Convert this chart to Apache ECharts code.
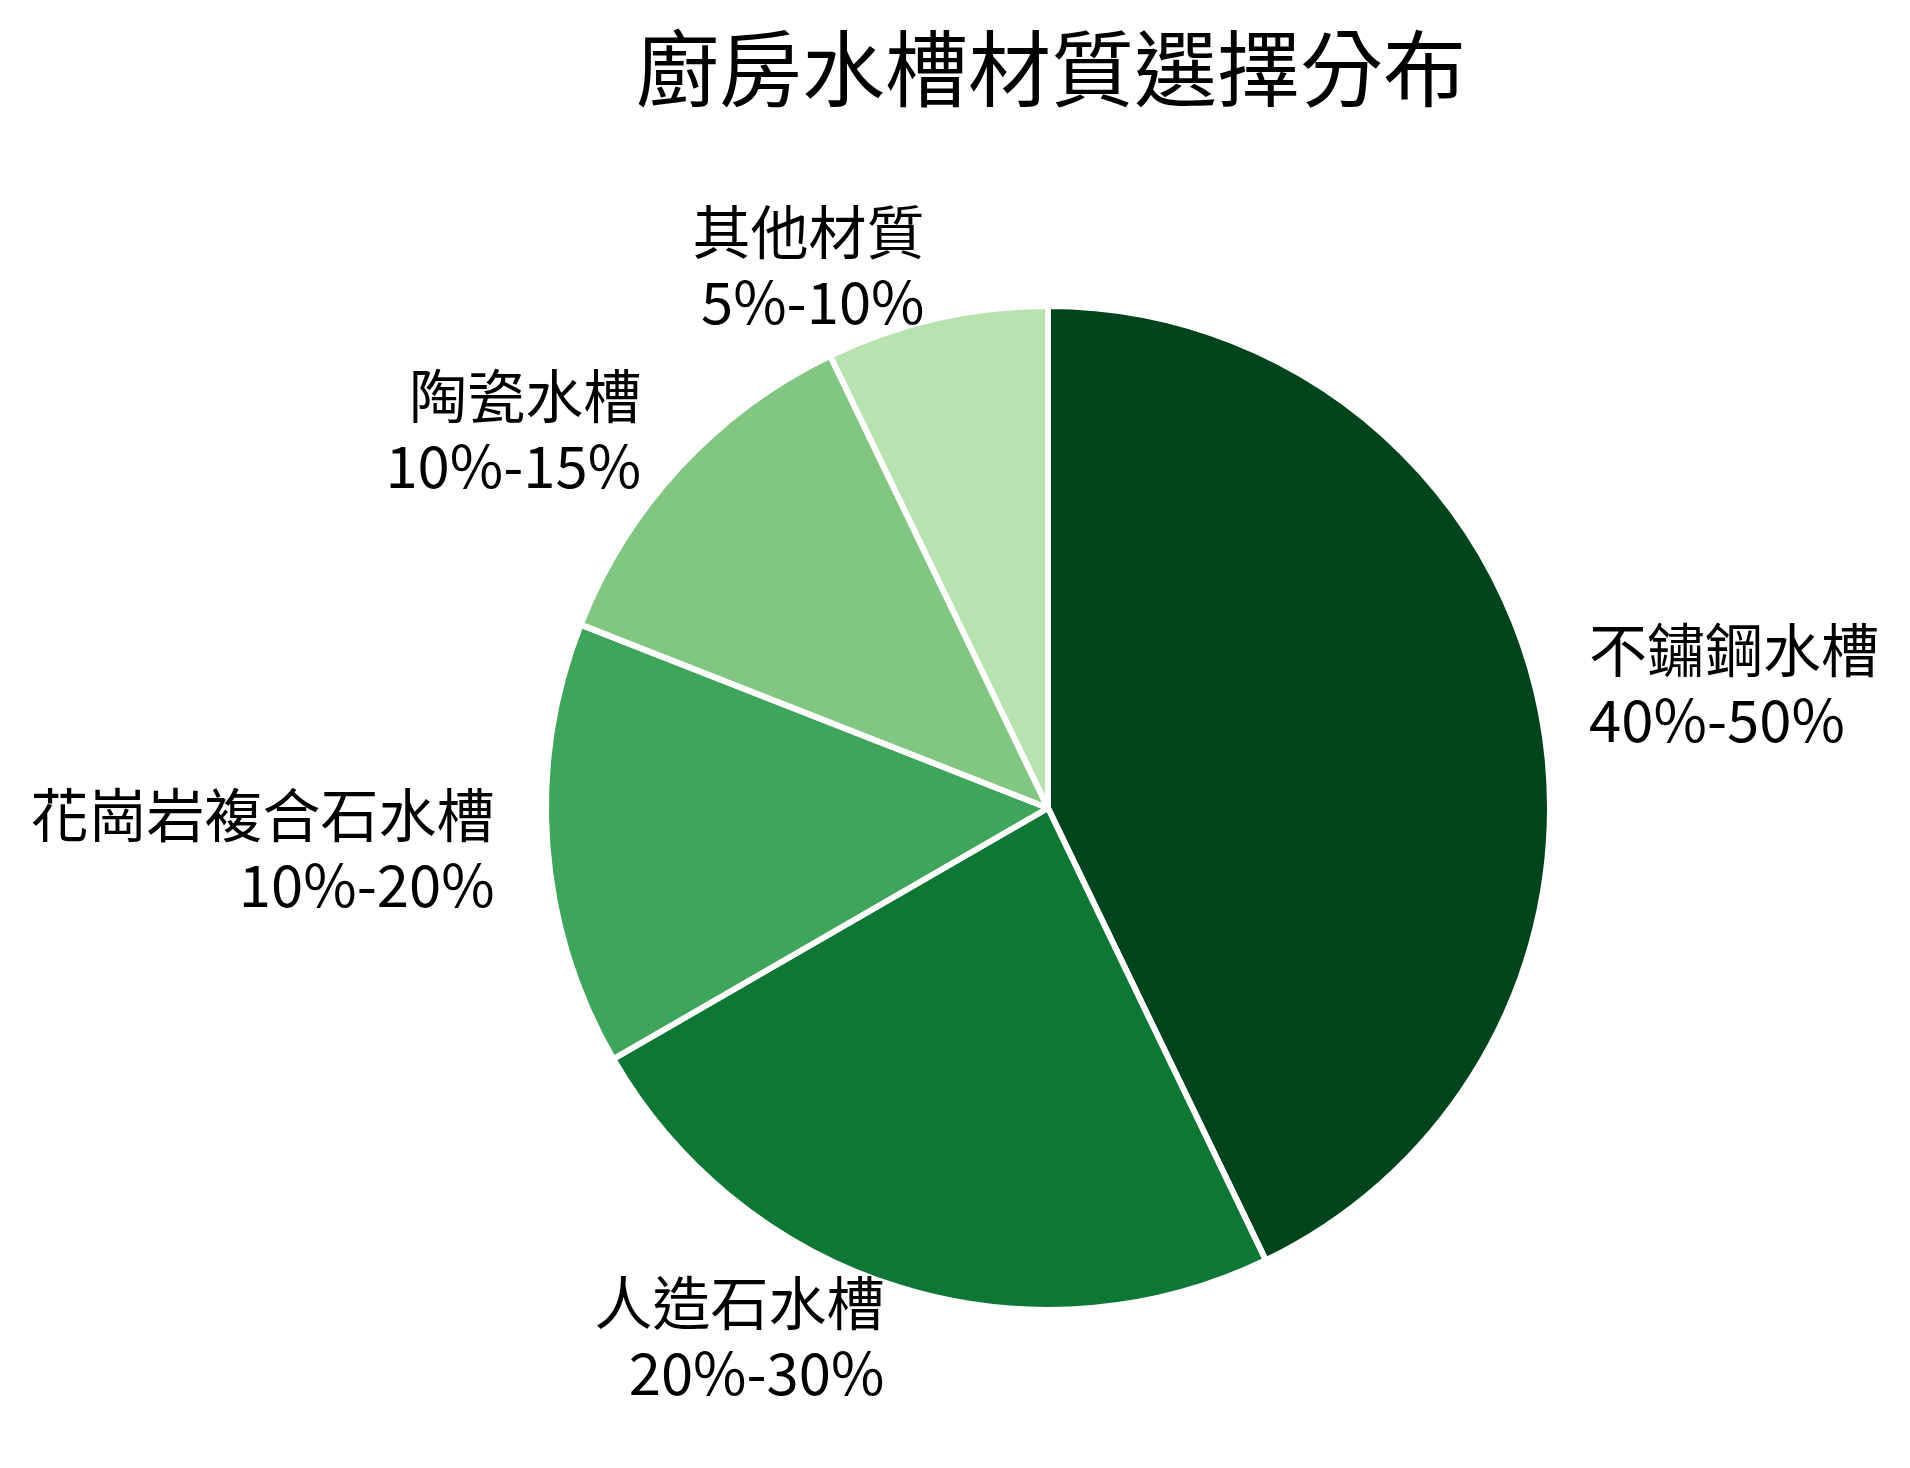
<!DOCTYPE html>
<html>
<head>
<meta charset="utf-8">
<script src="https://cdn.jsdelivr.net/npm/echarts@6/dist/echarts.min.js"></script>
<style>
html,body{margin:0;padding:0;background:#fff;}
#chart{width:1910px;height:1468px;}
</style>
</head>
<body>
<div id="chart"></div>
<script>
const categories = ['不鏽鋼水槽', '人造石水槽', '花崗岩複合石水槽', '陶瓷水槽', '其他材質'];
const values = [45, 25, 15, 12.5, 7.5];
const rangeLabels = ['40%-50%', '20%-30%', '10%-20%', '10%-15%', '5%-10%'];
const colors = ['#00441b', '#0e7735', '#3ea55b', '#81c781', '#b8e3b1'];

const chart = echarts.init(document.getElementById('chart'), null, {renderer: 'canvas'});
const FONT = '"Noto Sans CJK TC", "Noto Sans CJK SC", "Noto Sans", sans-serif';
chart.setOption({
  backgroundColor: '#ffffff',
  animation: false,
  title: {
    text: '廚房水槽材質選擇分布',
    left: 1046,
    top: 13,
    textAlign: 'center',
    textStyle: {fontFamily: FONT, fontSize: 83, fontWeight: 'normal', color: '#000', lineHeight: 100}
  },
  series: [{
    type: 'pie',
    center: [1048, 808],
    radius: [0, 502],
    startAngle: 90,
    clockwise: true,
    avoidLabelOverlap: false,
    data: categories.map((c, i) => ({name: c, value: values[i], itemStyle: {color: colors[i]}})),
    itemStyle: {borderColor: '#ffffff', borderWidth: 6},
    label: {
      show: true,
      position: 'outside',
      distanceToLabelLine: 0,
      fontFamily: FONT,
      fontSize: 58,
      lineHeight: 70,
      padding: [0, 0, 7, 0],
      color: '#000',
      formatter: p => p.name + '\n' + rangeLabels[p.dataIndex]
    },
    labelLine: {show: false, length: 53, length2: 0},
    emphasis: {disabled: true}
  }]
});
</script>
</body>
</html>
